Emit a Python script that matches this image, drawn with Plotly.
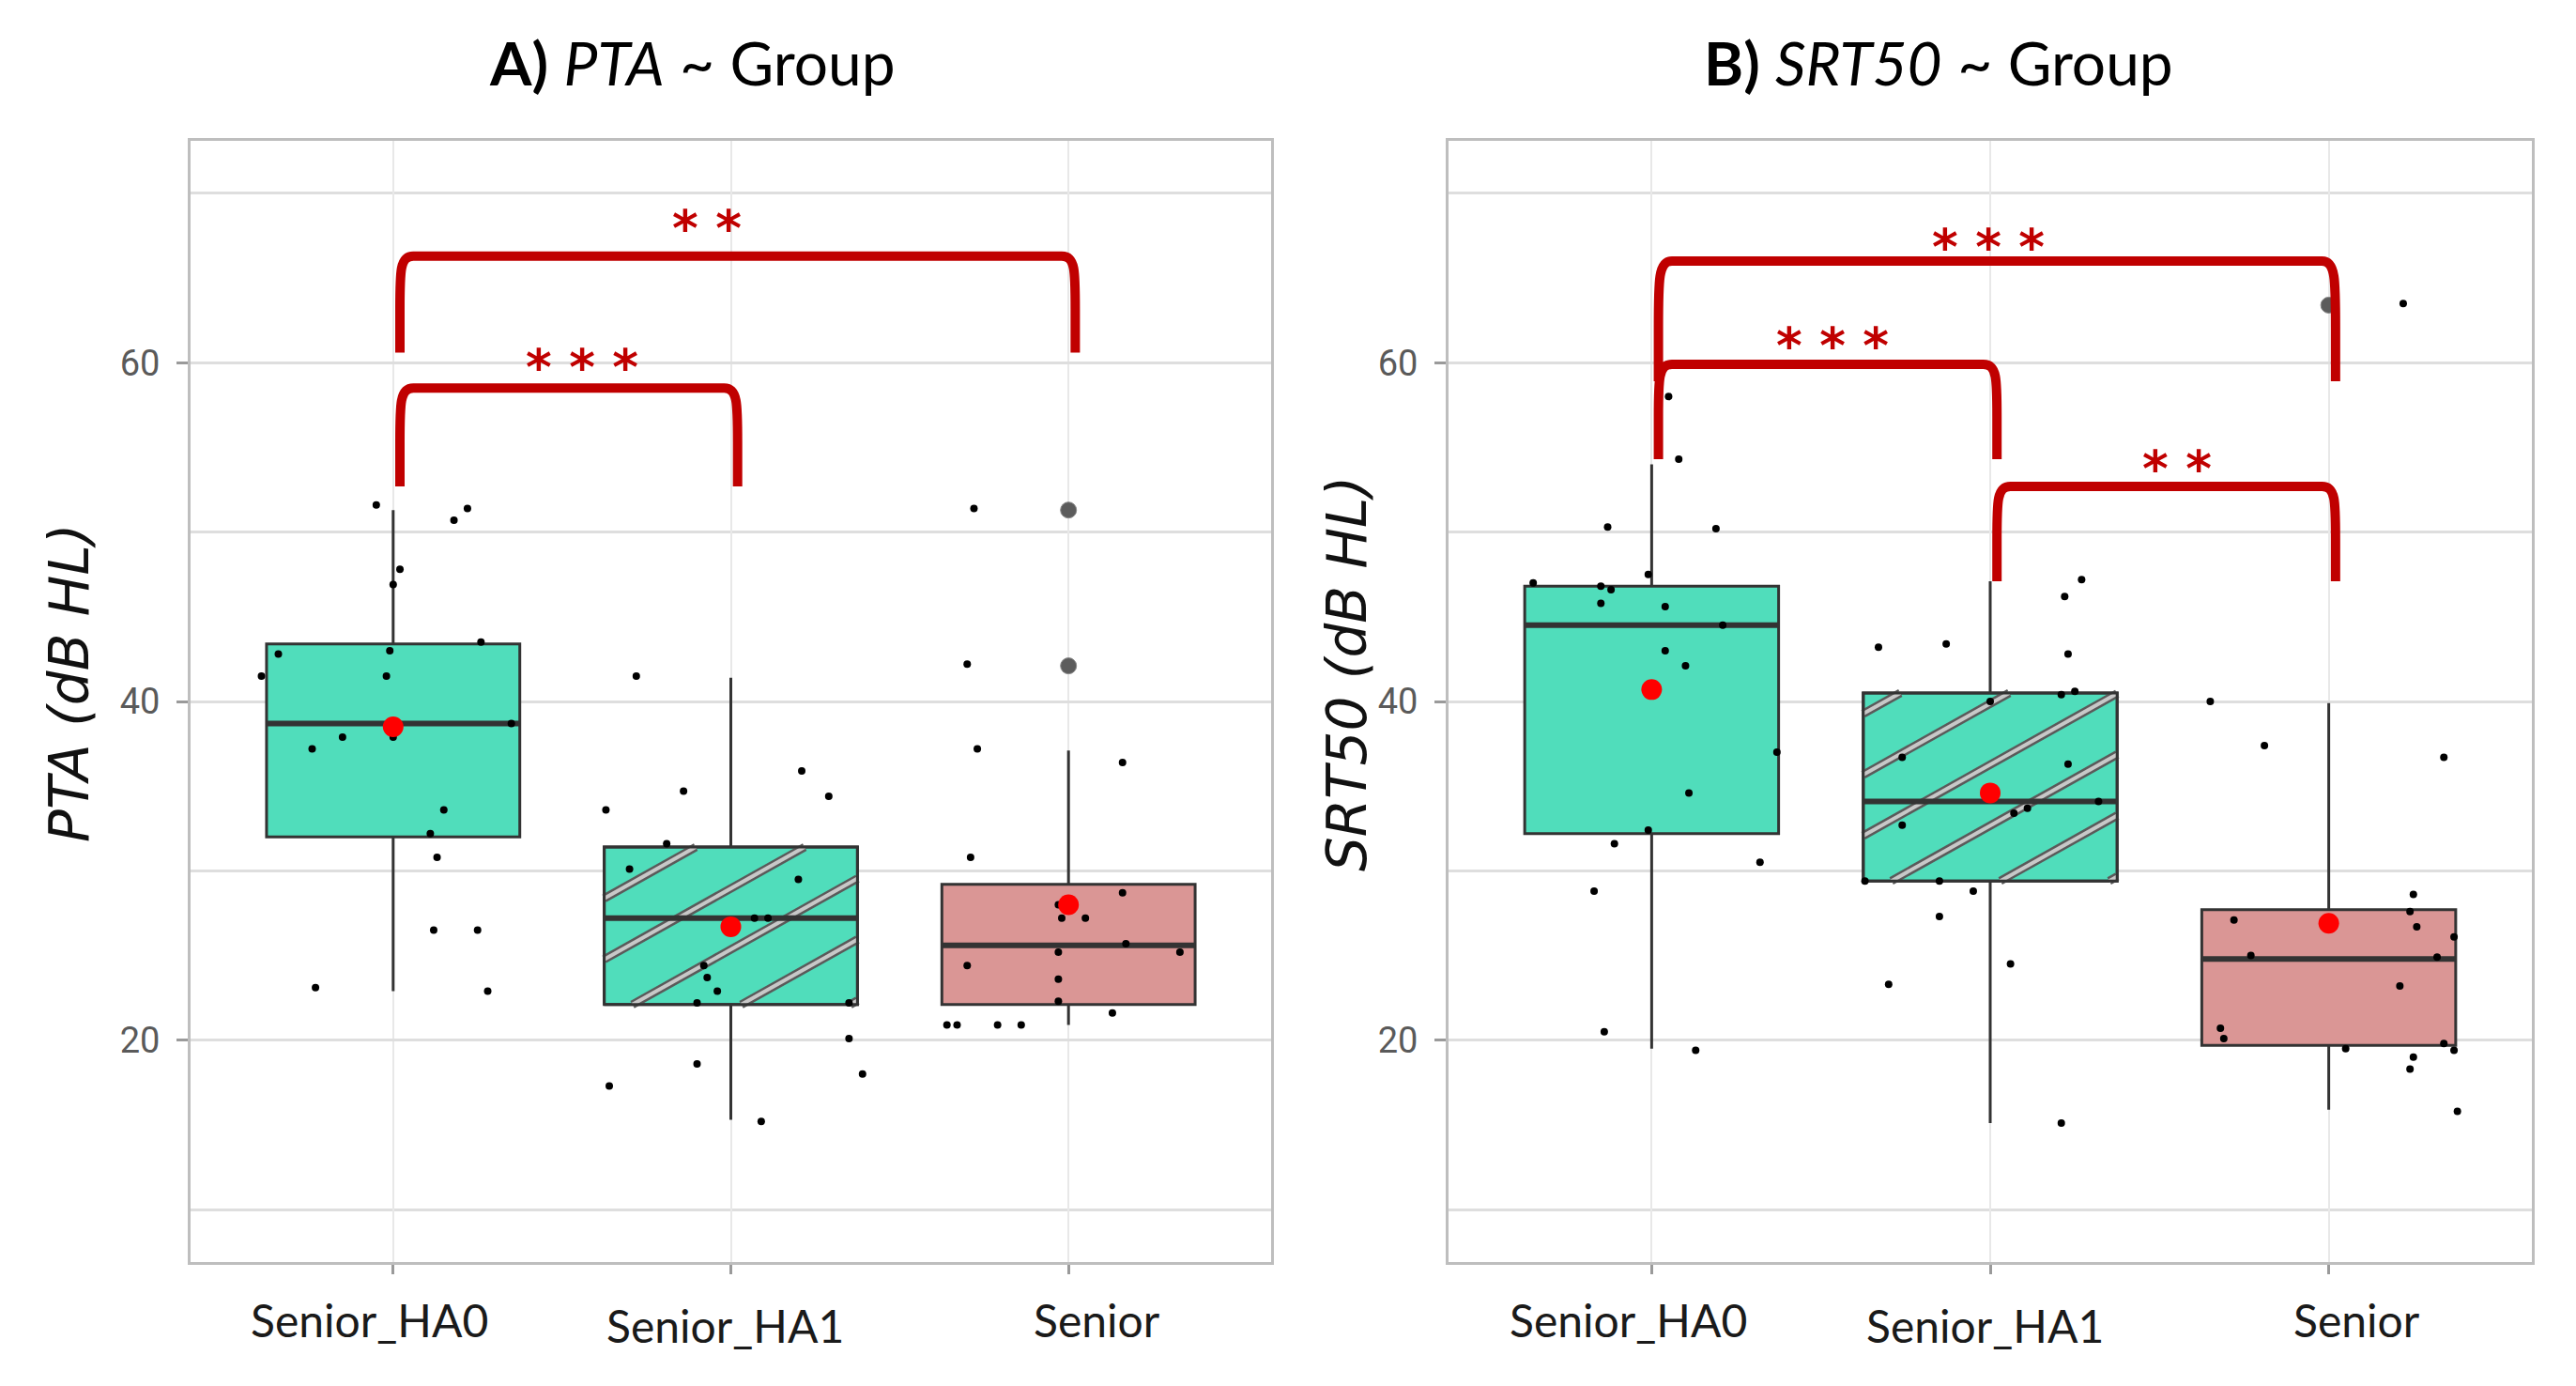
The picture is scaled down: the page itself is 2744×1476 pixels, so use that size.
import plotly.graph_objects as go

# ---------------- data ----------------
groups = ["Senior_HA0", "Senior_HA1", "Senior"]

# Panel A: PTA
pta_q1 = [32.0, 22.1, 22.1]
pta_median = [38.7, 27.2, 25.6]
pta_q3 = [43.4, 31.4, 29.2]
pta_lower = [22.9, 15.3, 20.9]
pta_upper = [51.3, 41.4, 37.1]
pta_mean = [38.5, 26.7, 28.0]
pta_outlier_group = [2, 2]
pta_outlier_vals = [51.3, 42.1]

pta_ha0_vals = [51.6, 50.7, 51.4, 47.8, 46.9, 43.5, 42.8, 43.0, 41.5, 41.5, 38.7, 37.9, 37.9, 37.2, 33.6, 32.2, 30.8, 26.5, 26.5, 23.1, 22.9]
pta_ha0_jit = [-0.05, 0.18, 0.22, 0.02, 0.0, 0.26, -0.34, -0.01, -0.39, -0.02, 0.35, -0.15, 0.0, -0.24, 0.15, 0.11, 0.13, 0.12, 0.25, -0.23, 0.28]
pta_ha1_vals = [41.5, 35.9, 34.4, 34.7, 33.6, 31.6, 30.1, 29.5, 27.2, 27.2, 24.4, 23.7, 22.9, 22.2, 22.2, 20.1, 18.6, 18.0, 17.3, 15.2]
pta_ha1_jit = [-0.28, 0.21, 0.29, -0.14, -0.37, -0.19, -0.30, 0.20, 0.07, 0.11, -0.08, -0.07, -0.04, -0.10, 0.35, 0.35, -0.10, 0.39, -0.36, 0.09]
pta_sen_vals = [51.4, 42.2, 37.2, 36.4, 30.8, 28.7, 28.0, 27.2, 27.2, 25.7, 25.2, 25.2, 24.4, 23.6, 22.3, 21.6, 20.9, 20.9, 20.9, 20.9]
pta_sen_jit = [-0.28, -0.30, -0.27, 0.16, -0.29, 0.16, -0.03, -0.02, 0.05, 0.17, -0.03, 0.33, -0.30, -0.03, -0.03, 0.13, -0.36, -0.33, -0.21, -0.14]

pta_br_left = [0, 0]
pta_br_right = [1, 2]
pta_br_top = [58.5, 66.3]
pta_br_bottom = [52.7, 60.6]
pta_br_label = ["* * *", "* *"]
pta_br_label_y = [60.2, 68.4]
pta_br_label_dx = [0.06, -0.07]

# Panel B: SRT50
srt_q1 = [32.2, 29.4, 19.7]
srt_median = [44.5, 34.1, 24.8]
srt_q3 = [46.8, 40.5, 27.7]
srt_lower = [19.5, 15.1, 15.9]
srt_upper = [54.0, 47.1, 39.9]
srt_mean = [40.7, 34.6, 26.9]
srt_outlier_group = [2]
srt_outlier_vals = [63.4]

srt_ha0_vals = [58.0, 54.3, 50.3, 50.2, 47.5, 47.0, 46.8, 46.6, 45.8, 45.6, 44.5, 43.0, 42.1, 37.0, 34.6, 32.4, 31.6, 30.5, 28.8, 20.5, 19.4]
srt_ha0_jit = [0.05, 0.08, -0.13, 0.19, -0.01, -0.35, -0.15, -0.12, -0.15, 0.04, 0.21, 0.04, 0.10, 0.37, 0.11, -0.01, -0.11, 0.32, -0.17, -0.14, 0.13]
srt_ha1_vals = [47.2, 46.2, 42.8, 43.4, 43.2, 40.6, 40.0, 40.4, 36.7, 36.3, 33.7, 33.4, 34.1, 32.7, 29.4, 29.4, 28.8, 27.3, 24.5, 23.3, 15.1]
srt_ha1_jit = [0.27, 0.22, 0.23, -0.13, -0.33, 0.25, 0.0, 0.21, -0.26, 0.23, 0.11, 0.07, 0.32, -0.26, -0.15, -0.37, -0.05, -0.15, 0.06, -0.30, 0.21]
srt_sen_vals = [63.5, 40.0, 37.4, 36.7, 28.6, 27.6, 27.1, 26.7, 26.1, 25.0, 24.9, 23.2, 20.7, 20.1, 19.8, 19.5, 19.4, 19.0, 18.3, 15.8]
srt_sen_jit = [0.22, -0.35, -0.19, 0.34, 0.25, 0.24, -0.28, 0.26, 0.37, -0.23, 0.32, 0.21, -0.32, -0.31, 0.34, 0.05, 0.37, 0.25, 0.24, 0.38]

srt_br_left = [0, 0, 1]
srt_br_right = [1, 2, 2]
srt_br_top = [59.9, 66.0, 52.7]
srt_br_bottom = [54.3, 58.9, 47.1]
srt_br_label = ["* * *", "* * *", "* *"]
srt_br_label_y = [61.5, 67.3, 54.2]
srt_br_label_dx = [0.035, -0.006, 0.051]

titles = ["<b>A)</b> <i>PTA</i> ~ Group", "<b>B)</b> <i>SRT50</i> ~ Group"]
ytitles = ["<i>PTA (dB HL)</i>", "<i>SRT50 (dB HL)</i>"]

# ---------------- style ----------------
W, H = 2744, 1476
BOX_W = 0.75
TEAL = "#50DDBB"
ROSE = "#DA9695"
fills = [TEAL, TEAL, ROSE]
hatched = [False, True, False]
DARK = "#333333"
RED = "#C00000"
XR = [-0.6, 2.6]
YR = [6.9, 73.1]
px_left, px_top, px_bottom = [203, 1543], 150, 1344
px_right = [1354, 2697]
xdomains = [[px_left[i] / W, px_right[i] / W] for i in range(2)]
ydomain = [1 - px_bottom / H, 1 - px_top / H]
title_x = [737 / W, 2065 / W]
ytitle_pos = [(74 / W, 1 - 728 / H), (1435 / W, 1 - 718 / H)]
xlabel_shift = [-25, -6, 30]
xlabel_yshift = [0, -6, 0]
LEG_DX = 0.02
# hatch stripes (pixel units)
STRIPE_SLOPE_PX = 0.56
STRIPE_SPACING_PX = 116
STRIPE_PHASE_PX = 30

panels = [
    dict(q1=pta_q1, med=pta_median, q3=pta_q3, lo=pta_lower, hi=pta_upper, mean=pta_mean,
         og=pta_outlier_group, ov=pta_outlier_vals,
         pts=[(pta_ha0_vals, pta_ha0_jit), (pta_ha1_vals, pta_ha1_jit), (pta_sen_vals, pta_sen_jit)],
         br=list(zip(pta_br_left, pta_br_right, pta_br_top, pta_br_bottom, pta_br_label, pta_br_label_y, pta_br_label_dx))),
    dict(q1=srt_q1, med=srt_median, q3=srt_q3, lo=srt_lower, hi=srt_upper, mean=srt_mean,
         og=srt_outlier_group, ov=srt_outlier_vals,
         pts=[(srt_ha0_vals, srt_ha0_jit), (srt_ha1_vals, srt_ha1_jit), (srt_sen_vals, srt_sen_jit)],
         br=list(zip(srt_br_left, srt_br_right, srt_br_top, srt_br_bottom, srt_br_label, srt_br_label_y, srt_br_label_dx))),
]


def stripe_segments(xl, xr, yb, yt, xpx, ypx):
    """Diagonal hatch lines clipped to the rectangle, in data coordinates."""
    s = STRIPE_SLOPE_PX * xpx / ypx          # data slope
    sp = STRIPE_SPACING_PX / xpx
    ph = STRIPE_PHASE_PX / xpx
    xs, ys = [], []
    k = -20
    while True:
        xb = xl + ph + k * sp
        if xb > xr:
            break
        xt = xb + (yt - yb) / s
        a = max(xl, xb)
        b = min(xr, xt)
        if b > a:
            xs += [a, b, None]
            ys += [yb + s * (a - xb), yb + s * (b - xb), None]
        k += 1
    return xs, ys


fig = go.Figure()
shapes = []
annotations = []

for p_i, p in enumerate(panels):
    xa = "x" if p_i == 0 else "x2"
    ya = "y" if p_i == 0 else "y2"
    xpx = (px_right[p_i] - px_left[p_i]) / (XR[1] - XR[0])
    ypx = (px_bottom - px_top) / (YR[1] - YR[0])
    for g in range(3):
        fig.add_trace(go.Box(
            x=[g], q1=[p["q1"][g]], median=[p["med"][g]], q3=[p["q3"][g]],
            lowerfence=[p["lo"][g]], upperfence=[p["hi"][g]],
            width=BOX_W, fillcolor=fills[g], line=dict(color=DARK, width=3),
            whiskerwidth=0, boxpoints=False, xaxis=xa, yaxis=ya,
            showlegend=False, hoverinfo="skip"))
        if hatched[g]:
            sx, sy = stripe_segments(g - BOX_W / 2, g + BOX_W / 2, p["q1"][g], p["q3"][g], xpx, ypx)
            for col, wdt in (("#5a5a5a", 9), ("#c8c8c8", 4)):
                fig.add_trace(go.Scatter(
                    x=sx, y=sy, mode="lines", line=dict(color=col, width=wdt),
                    xaxis=xa, yaxis=ya, showlegend=False, hoverinfo="skip", connectgaps=False))
            rx = [g - BOX_W / 2, g + BOX_W / 2, g + BOX_W / 2, g - BOX_W / 2, g - BOX_W / 2]
            ry = [p["q1"][g], p["q1"][g], p["q3"][g], p["q3"][g], p["q1"][g]]
            fig.add_trace(go.Scatter(
                x=rx, y=ry, mode="lines", line=dict(color=DARK, width=3),
                xaxis=xa, yaxis=ya, showlegend=False, hoverinfo="skip"))
        # thick median
        fig.add_trace(go.Scatter(
            x=[g - BOX_W / 2, g + BOX_W / 2], y=[p["med"][g], p["med"][g]], mode="lines",
            line=dict(color=DARK, width=6), xaxis=xa, yaxis=ya, showlegend=False, hoverinfo="skip"))
    # outliers
    fig.add_trace(go.Scatter(
        x=p["og"], y=p["ov"], mode="markers",
        marker=dict(size=17, color="#5c5c5c", line=dict(color="#888888", width=1)),
        xaxis=xa, yaxis=ya, showlegend=False, hoverinfo="skip"))
    # jittered points
    for g, (vals, jit) in enumerate(p["pts"]):
        fig.add_trace(go.Scatter(
            x=[g + j for j in jit], y=vals, mode="markers",
            marker=dict(size=8, color="black"),
            xaxis=xa, yaxis=ya, showlegend=False, hoverinfo="skip"))
    # means
    fig.add_trace(go.Scatter(
        x=[0, 1, 2], y=p["mean"], mode="markers",
        marker=dict(size=22, color="#FF0000"),
        xaxis=xa, yaxis=ya, showlegend=False, hoverinfo="skip"))
    # significance brackets
    for (l, r, top, bot, lab, laby, ldx) in p["br"]:
        x1 = l + LEG_DX
        x2 = r + LEG_DX
        rxc = 0.04
        mid = bot + (top - bot) * 0.45
        path = (f"M {x1},{bot} L {x1},{mid} C {x1},{top - (top-bot)*0.15} {x1},{top} {x1 + rxc},{top} "
                f"L {x2 - rxc},{top} C {x2},{top} {x2},{top - (top-bot)*0.15} {x2},{mid} L {x2},{bot}")
        shapes.append(dict(type="path", path=path, xref=xa, yref=ya,
                           line=dict(color=RED, width=10)))
        annotations.append(dict(x=(l + r) / 2 + ldx, y=laby, xref=xa, yref=ya, text="<b>" + lab + "</b>",
                                showarrow=False, xanchor="center", yanchor="middle", yshift=-9,
                                font=dict(family="DejaVu Sans", size=53, color=RED)))
    # titles
    annotations.append(dict(x=title_x[p_i], y=1 - 67 / H, xref="paper", yref="paper",
                            text=titles[p_i], showarrow=False, xanchor="center", yanchor="middle",
                            font=dict(family="Lato", size=64, color="black")))
    annotations.append(dict(x=ytitle_pos[p_i][0], y=ytitle_pos[p_i][1], xref="paper", yref="paper",
                            text=ytitles[p_i], showarrow=False, textangle=-90,
                            xanchor="center", yanchor="middle",
                            font=dict(family="DejaVu Sans", size=58, color="#111111")))
    for g, name in enumerate(groups):
        annotations.append(dict(x=g, y=1 - 1405 / H, xref=xa, yref="paper", text=name,
                                showarrow=False, xanchor="center", yanchor="middle",
                                xshift=xlabel_shift[g], yshift=xlabel_yshift[g],
                                font=dict(family="Lato", size=48, color="#1a1a1a")))

axis_common_x = dict(range=XR, tickvals=[0, 1, 2], showticklabels=False,
                     ticks="outside", ticklen=10, tickwidth=3, tickcolor="#9a9a9a",
                     showgrid=True, gridcolor="#E8E8E8", gridwidth=2,
                     showline=True, mirror=True, linecolor="#BEBEBE", linewidth=3,
                     zeroline=False)
axis_common_y = dict(range=YR, tick0=0, dtick=20, domain=ydomain,
                     ticks="outside", ticklen=12, tickwidth=3, tickcolor="#9a9a9a",
                     tickfont=dict(family="Roboto", size=38, color="#5a5a5a"),
                     ticklabelstandoff=10,
                     showgrid=True, gridcolor="#DEDEDE", gridwidth=3,
                     minor=dict(tick0=0, dtick=10, showgrid=True, gridcolor="#DEDEDE",
                                gridwidth=3, ticks=""),
                     showline=True, mirror=True, linecolor="#BEBEBE", linewidth=3,
                     zeroline=False)

fig.update_layout(
    width=W, height=H,
    margin=dict(l=0, r=0, t=0, b=0),
    paper_bgcolor="white", plot_bgcolor="white",
    showlegend=False,
    xaxis=dict(domain=xdomains[0], anchor="y", **axis_common_x),
    yaxis=dict(anchor="x", **axis_common_y),
    xaxis2=dict(domain=xdomains[1], anchor="y2", **axis_common_x),
    yaxis2=dict(anchor="x2", **axis_common_y),
    shapes=shapes,
    annotations=annotations,
)

fig.write_html("out.html", config={"displayModeBar": False},
               post_script="document.body.style.margin='0px';")
